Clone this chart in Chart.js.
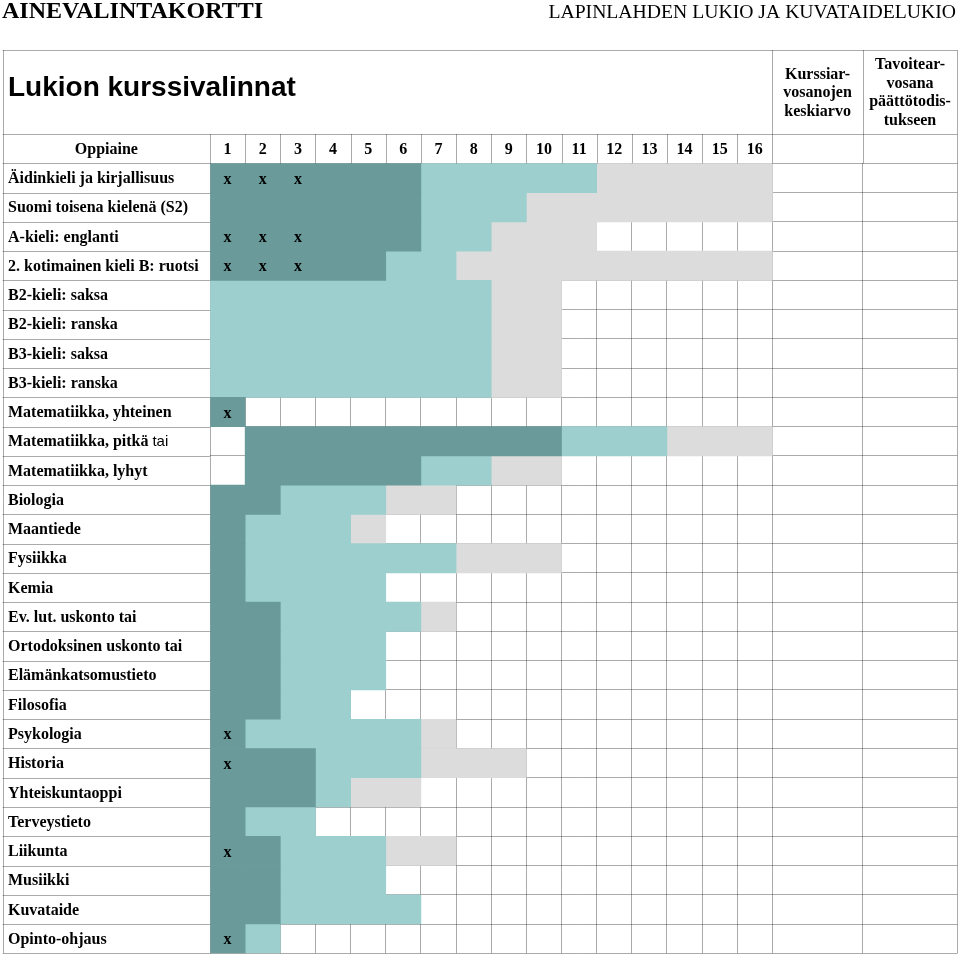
<!DOCTYPE html>
<html lang="fi">
<head>
<meta charset="utf-8">
<title>Ainevalintakortti</title>
<script src="https://cdn.jsdelivr.net/npm/chart.js@4.4.1/dist/chart.umd.min.js"></script>
<style>
  html, body { margin: 0; padding: 0; background: #fff; }
  #wrap { width: 960px; height: 957px; position: relative; }
</style>
</head>
<body>
<div id="wrap"><canvas id="kortti"></canvas></div>
<script>
// Oppiaineet = rivit
const subjects = [
  'Äidinkieli ja kirjallisuus', 'Suomi toisena kielenä (S2)', 'A-kieli: englanti',
  '2. kotimainen kieli B: ruotsi', 'B2-kieli: saksa', 'B2-kieli: ranska',
  'B3-kieli: saksa', 'B3-kieli: ranska', 'Matematiikka, yhteinen',
  'Matematiikka, pitkä', 'Matematiikka, lyhyt', 'Biologia', 'Maantiede',
  'Fysiikka', 'Kemia', 'Ev. lut. uskonto tai', 'Ortodoksinen uskonto tai',
  'Elämänkatsomustieto', 'Filosofia', 'Psykologia', 'Historia',
  'Yhteiskuntaoppi', 'Terveystieto', 'Liikunta', 'Musiikki', 'Kuvataide',
  'Opinto-ohjaus'
];
// kurssien numerot otsikkoriville
const courses = ['1','2','3','4','5','6','7','8','9','10','11','12','13','14','15','16'];

// kurssijaksot [alku, loppu] (loppu = viimeinen kurssinumero), null = ei kursseja
const darkRuns = [
  [0,6],[0,6],[0,6],[0,5],null,null,null,null,[0,1],[1,10],[1,6],[0,2],[0,1],
  [0,1],[0,1],[0,2],[0,2],[0,2],[0,2],[0,1],[0,3],[0,3],[0,1],[0,2],[0,2],[0,2],[0,1]
];
const lightRuns = [
  [6,11],[6,9],[6,8],[5,7],[0,8],[0,8],[0,8],[0,8],null,[10,13],[6,8],[2,5],[1,4],
  [1,7],[1,5],[2,6],[2,5],[2,5],[2,4],[1,6],[3,6],[3,4],[1,3],[2,5],[2,5],[2,6],[1,2]
];
const greyRuns = [
  [11,16],[9,16],[8,11],[7,16],[8,10],[8,10],[8,10],[8,10],null,[13,16],[8,10],[5,7],[4,5],
  [7,10],null,[6,7],null,null,null,[6,7],[6,9],[4,6],null,[5,7],null,null,null
];
// montako "x"-merkkiä rivin alussa (kurssista 1 alkaen)
const xMarks = [3,0,3,3,0,0,0,0,1,0,0,0,0,0,0,0,0,0,0,1,1,0,0,1,0,0,1];

// oikean reunan sarakkeet
const gradeCols = [
  ['Kurssiar-', 'vosanojen', 'keskiarvo'],
  ['Tavoitear-', 'vosana', 'päättötodis-', 'tukseen']
];

const DARK = '#6a9a9a';
const LIGHT = '#9dcfcf';
const GREY = '#dcdcdc';
const LINE = 'rgba(0,0,0,0.33)';
const SERIF = "'Liberation Serif', 'Times New Roman', serif";
const SANS = "'Liberation Sans', Arial, sans-serif";

// sarakkeiden leveydet kurssileveyksinä
const COL_AVG = 2.57, COL_GOAL = 2.69;
const X_MAX = courses.length + COL_AVG + COL_GOAL;

function bars(label, data, color) {
  return {
    label: label,
    data: data,
    backgroundColor: color,
    borderWidth: 0,
    barPercentage: 1,
    categoryPercentage: 1,
    grouped: false
  };
}

const korttiPlugin = {
  id: 'kortti',
  afterDraw(chart) {
    const ctx = chart.ctx;
    const x = chart.scales.x;
    const y = chart.scales.y;
    const L = 2.7, T = 50, H = 134;
    const left = x.left, right = x.getPixelForValue(X_MAX);
    const rowH = y.getPixelForValue(1) - y.getPixelForValue(0);
    const px = v => Math.round(v) + 0.5;

    ctx.save();
    ctx.strokeStyle = LINE;
    ctx.lineWidth = 1;
    ctx.beginPath();
    // ulkoreunat ja otsikkorivit
    ctx.moveTo(L, px(T)); ctx.lineTo(right, px(T));
    ctx.moveTo(L, px(H)); ctx.lineTo(right, px(H));
    ctx.moveTo(px(L), T); ctx.lineTo(px(L), y.bottom);
    ctx.moveTo(px(left), H); ctx.lineTo(px(left), y.top);
    for (let c = 1; c <= courses.length; c++) {
      const cx = px(x.getPixelForValue(c));
      ctx.moveTo(cx, c === courses.length ? T : H);
      ctx.lineTo(cx, y.top);
    }
    [courses.length + COL_AVG, X_MAX].forEach(v => {
      const cx = px(x.getPixelForValue(v));
      ctx.moveTo(cx, T); ctx.lineTo(cx, y.top);
    });
    // rivien vaakaviivat oppiainesarakkeessa
    for (let i = 0; i <= subjects.length; i++) {
      const ly = px(y.getPixelForValue(i) - rowH / 2);
      ctx.moveTo(L, ly); ctx.lineTo(left, ly);
    }
    ctx.stroke();

    // otsikot
    ctx.fillStyle = '#000';
    ctx.textBaseline = 'alphabetic';
    ctx.textAlign = 'left';
    ctx.font = 'bold 24px ' + SERIF;
    ctx.fillText('AINEVALINTAKORTTI', 2, 18);
    ctx.textAlign = 'right';
    ctx.font = '19.7px ' + SERIF;
    ctx.fillText('LAPINLAHDEN LUKIO JA KUVATAIDELUKIO', 956, 18);
    ctx.textAlign = 'left';
    ctx.font = 'bold 28px ' + SANS;
    ctx.fillText('Lukion kurssivalinnat', 8, 96);

    // sarakeotsikot
    ctx.textAlign = 'center';
    ctx.textBaseline = 'middle';
    ctx.font = 'bold 16px ' + SERIF;
    const headY = (H + y.top) / 2 + 1;
    ctx.fillText('Oppiaine', (L + left) / 2, headY);
    courses.forEach((c, i) => {
      ctx.fillText(c, x.getPixelForValue(i + 0.5), headY);
    });
    const gx = [
      x.getPixelForValue(courses.length + COL_AVG / 2),
      x.getPixelForValue(courses.length + COL_AVG + COL_GOAL / 2)
    ];
    gradeCols.forEach((lines, k) => {
      const step = 18.6;
      const y0 = (T + H) / 2 + 1 - (lines.length - 1) * step / 2;
      lines.forEach((t, j) => ctx.fillText(t, gx[k], y0 + j * step));
    });

    // oppiaineiden nimet
    ctx.textAlign = 'left';
    subjects.forEach((s, i) => {
      const ty = y.getPixelForValue(i) + 1;
      ctx.font = 'bold 16px ' + SERIF;
      ctx.fillText(s, 8, ty);
      if (s === 'Matematiikka, pitkä') {
        const w = ctx.measureText(s + ' ').width;
        ctx.font = '15px ' + SANS;
        ctx.fillText('tai', 8 + w, ty);
      }
    });

    // x-merkit
    ctx.textAlign = 'center';
    ctx.font = 'bold 16px ' + SERIF;
    xMarks.forEach((n, i) => {
      for (let c = 0; c < n; c++) {
        ctx.fillText('x', x.getPixelForValue(c + 0.5), y.getPixelForValue(i) + 1.5);
      }
    });
    ctx.restore();
  }
};

const canvas = document.getElementById('kortti');
const chart = new Chart(canvas, {
  type: 'bar',
  data: {
    labels: subjects,
    datasets: [
      bars('Pakolliset', darkRuns, DARK),
      bars('Syventävät', lightRuns, LIGHT),
      bars('Soveltavat', greyRuns, GREY)
    ]
  },
  options: {
    indexAxis: 'y',
    responsive: true,
    maintainAspectRatio: false,
    animation: false,
    devicePixelRatio: 1,
    layout: { padding: { left: 210, top: 163.3, right: 2.7, bottom: 3.7 } },
    plugins: {
      legend: { display: false },
      tooltip: { enabled: false }
    },
    scales: {
      x: {
        type: 'linear',
        position: 'top',
        min: 0,
        max: X_MAX,
        z: 1,
        afterBuildTicks(scale) {
          const t = [];
          for (let c = 0; c <= courses.length; c++) t.push({ value: c });
          t.push({ value: courses.length + COL_AVG }, { value: X_MAX });
          scale.ticks = t;
        },
        ticks: { display: false },
        grid: { color: LINE, drawTicks: false, lineWidth: 1 },
        border: { display: false }
      },
      y: {
        type: 'category',
        z: 1,
        ticks: { display: false },
        grid: { color: LINE, drawTicks: false, lineWidth: 1, offset: true },
        border: { display: false }
      }
    }
  },
  plugins: [korttiPlugin]
});
</script>
</body>
</html>
